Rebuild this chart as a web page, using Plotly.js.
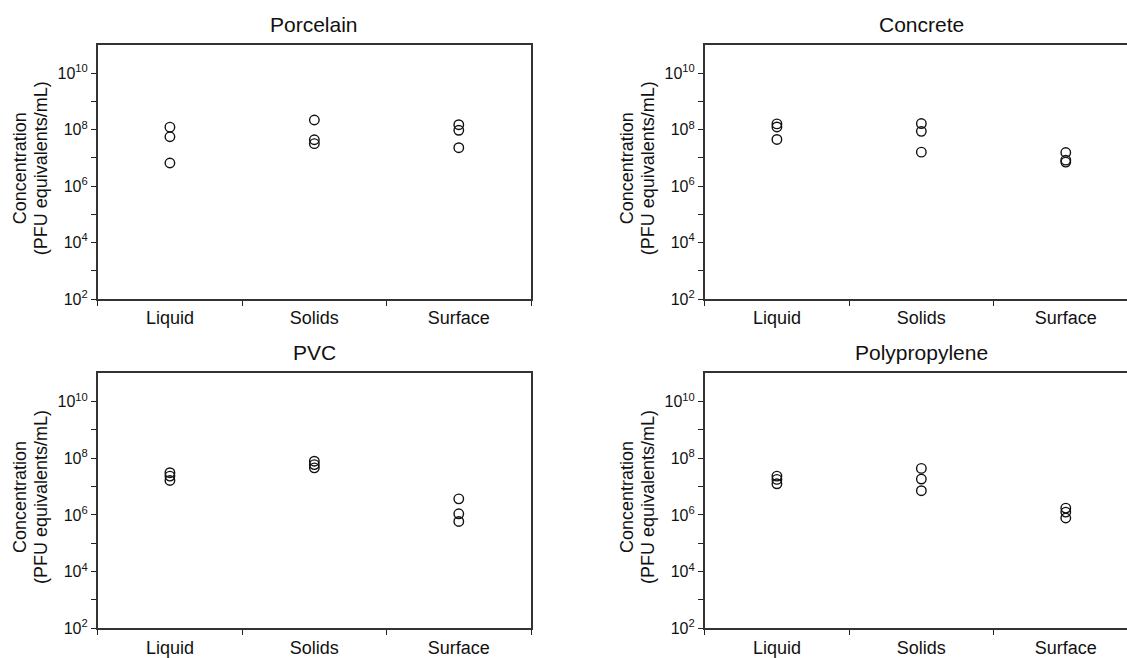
<!DOCTYPE html>
<html>
<head>
<meta charset="utf-8">
<script src="https://cdn.plot.ly/plotly-3.0.1.min.js"></script>
<style>
  html, body { margin: 0; padding: 0; overflow: hidden; background: #fff; }
  #chart { width: 1150px; height: 658px; }
</style>
</head>
<body>
<div id="chart"></div>
<script>
// ---- Data ----
const categories = ['Liquid', 'Solids', 'Surface'];
const panelTitles = ['Porcelain', 'Concrete', 'PVC', 'Polypropylene'];
const yTitleLines = ['Concentration', '(PFU equivalents/mL)'];
const yTickVals = [1e2, 1e3, 1e4, 1e5, 1e6, 1e7, 1e8, 1e9, 1e10];
const yTickText = ['10<sup>2</sup>', '', '10<sup>4</sup>', '', '10<sup>6</sup>', '', '10<sup>8</sup>', '', '10<sup>10</sup>'];

// three replicates per category: Liquid, Solids, Surface
const pointCategory = ['Liquid', 'Liquid', 'Liquid', 'Solids', 'Solids', 'Solids', 'Surface', 'Surface', 'Surface'];
const porcelain     = [1.23e8, 5.6e7, 6.6e6,   2.2e8, 4.4e7, 3.2e7,   1.5e8, 9.5e7, 2.3e7];
const concrete      = [1.6e8, 1.25e8, 4.5e7,   1.65e8, 8.7e7, 1.6e7,  1.55e7, 8.3e6, 7.1e6];
const pvc           = [3.1e7, 2.35e7, 1.65e7,  7.9e7, 6.0e7, 4.6e7,   3.7e6, 1.1e6, 5.9e5];
const polypropylene = [2.35e7, 1.8e7, 1.26e7,  4.4e7, 1.85e7, 7.2e6,  1.75e6, 1.26e6, 7.8e5];
const panelValues = [porcelain, concrete, pvc, polypropylene];

// ---- Layout geometry (pixels) ----
const W = 1150, H = 658;
const colPx = [[97.7, 531], [704.7, 1138]];
const rowPx = [[45, 299], [373.3, 628.3]];
const FONT = 'Liberation Sans, Arial, Helvetica, sans-serif';

const traces = [];
const layout = {
  width: W, height: H,
  margin: { l: 0, r: 0, t: 0, b: 0 },
  paper_bgcolor: '#fff', plot_bgcolor: '#fff',
  showlegend: false,
  font: { family: FONT, color: '#111' },
  annotations: []
};

panelValues.forEach((vals, i) => {
  const n = i + 1;
  const col = i % 2, row = Math.floor(i / 2);
  const xs = n === 1 ? 'x' : 'x' + n;
  const ys = n === 1 ? 'y' : 'y' + n;
  traces.push({
    type: 'scatter', mode: 'markers',
    x: pointCategory, y: vals,
    xaxis: xs, yaxis: ys,
    marker: { symbol: 'circle-open', size: 9.5, color: '#111', line: { width: 1.4, color: '#111' } },
    hoverinfo: 'x+y'
  });
  const xd = [colPx[col][0] / W, colPx[col][1] / W];
  const yd = [1 - rowPx[row][1] / H, 1 - rowPx[row][0] / H];
  layout['xaxis' + (n === 1 ? '' : n)] = {
    domain: xd, anchor: ys,
    type: 'category', categoryorder: 'array', categoryarray: categories,
    range: [-0.5, 2.5],
    tickson: 'boundaries', ticks: 'outside', ticklen: 5, tickwidth: 1.2, tickcolor: '#222',
    showline: true, mirror: true, linecolor: '#333', linewidth: 1.5,
    showgrid: false, zeroline: false,
    ticklabelstandoff: 2,
    tickfont: { family: FONT, size: 18, color: '#111' }
  };
  layout['yaxis' + (n === 1 ? '' : n)] = {
    domain: yd, anchor: xs,
    type: 'log', range: [2, 11],
    tickmode: 'array', tickvals: yTickVals, ticktext: yTickText,
    ticks: 'outside', ticklen: 5, tickwidth: 1.2, tickcolor: '#222',
    showline: true, mirror: true, linecolor: '#333', linewidth: 1.5,
    showgrid: false, zeroline: false,
    tickfont: { family: FONT, size: 16, color: '#111' }
  };
  // panel title
  layout.annotations.push({
    text: panelTitles[i], xref: 'paper', yref: 'paper',
    x: (xd[0] + xd[1]) / 2, y: yd[1] + 21 / H,
    xanchor: 'center', yanchor: 'middle', showarrow: false,
    font: { family: FONT, size: 21, color: '#111' }
  });
  // y axis title, two lines
  const yMid = (yd[0] + yd[1]) / 2 + 4 / H;
  [-77.5, -56.5].forEach((dx, k) => {
    layout.annotations.push({
      text: yTitleLines[k], xref: 'paper', yref: 'paper',
      x: (colPx[col][0] + dx) / W, y: yMid,
      xanchor: 'center', yanchor: 'middle', textangle: -90, showarrow: false,
      font: { family: FONT, size: 18, color: '#111' }
    });
  });
});

Plotly.newPlot('chart', traces, layout, { displayModeBar: false, responsive: false });
</script>
</body>
</html>
